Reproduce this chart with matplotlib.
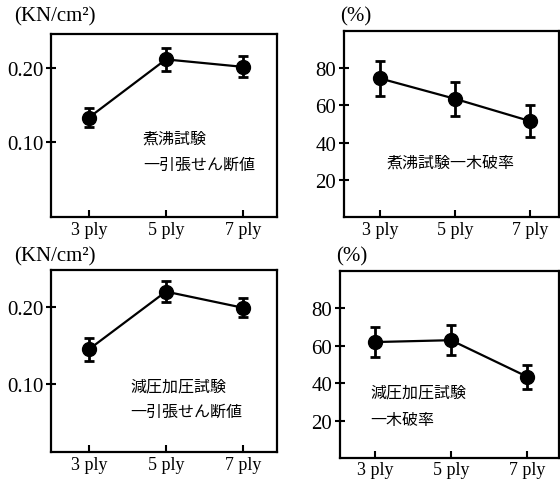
import matplotlib
matplotlib.use("Agg")
import matplotlib.pyplot as plt

categories = ["3 ply", "5 ply", "7 ply"]

# Boiling test - tensile shear strength (KN/cm2)
boil_shear = [0.133, 0.211, 0.201]
boil_shear_err = [0.013, 0.015, 0.014]
# Boiling test - wood failure (%)
boil_wood = [74.5, 63.5, 51.5]
boil_wood_err = [9.5, 9.0, 8.5]
# Vacuum-pressure test - tensile shear strength (KN/cm2)
vac_shear = [0.145, 0.220, 0.199]
vac_shear_err = [0.0145, 0.014, 0.0125]
# Vacuum-pressure test - wood failure (%)
vac_wood = [62.0, 63.0, 43.5]
vac_wood_err = [8.0, 8.0, 6.5]

shear_ticks = [0.10, 0.20]
shear_ticklabels = ["0.10", "0.20"]
pct_ticks = [20, 40, 60, 80]
pct_ticklabels = ["20", "40", "60", "80"]

SERIF = ["Liberation Serif", "DejaVu Serif"]
JP = ["Noto Sans CJK JP", "DejaVu Sans"]

fig = plt.figure(figsize=(5.6, 4.81), dpi=100)
W, H = 560, 481

def make_ax(left, top, right, bottom):
    return fig.add_axes([left / W, 1 - bottom / H, (right - left) / W, (bottom - top) / H])

panels = [
    dict(box=(51, 35, 277, 218), y=boil_shear, e=boil_shear_err, ylim=(0.0, 0.245),
         ticks=shear_ticks, tl=shear_ticklabels, xlim=(-0.49, 2.44),
         unit="(KN/cm²)", unit_xy=(14, 17),
         notes=[("煮沸試験", 143, 139), ("一引張せん断値", 143, 165)]),
    dict(box=(344, 32, 559, 218), y=boil_wood, e=boil_wood_err, ylim=(0, 100),
         ticks=pct_ticks, tl=pct_ticklabels, xlim=(-0.48, 2.38),
         unit="(%)", unit_xy=(340, 17),
         notes=[("煮沸試験一木破率", 387, 163)]),
    dict(box=(51, 271, 277, 453), y=vac_shear, e=vac_shear_err, ylim=(0.012, 0.248),
         ticks=shear_ticks, tl=shear_ticklabels, xlim=(-0.49, 2.44),
         unit="(KN/cm²)", unit_xy=(14, 257),
         notes=[("減圧加圧試験", 130, 387), ("一引張せん断値", 130, 412)]),
    dict(box=(340, 272, 559, 459), y=vac_wood, e=vac_wood_err, ylim=(0, 100),
         ticks=pct_ticks, tl=pct_ticklabels, xlim=(-0.46, 2.42),
         unit="(%)", unit_xy=(336, 257),
         notes=[("減圧加圧試験", 370, 393), ("一木破率", 370, 421)]),
]

for i, p in enumerate(panels):
    ax = make_ax(*p["box"])
    x = list(range(len(categories)))
    ax.errorbar(x, p["y"], yerr=p["e"], fmt="o-", color="black", lw=1.6,
                ms=10, capsize=3.5, capthick=2, elinewidth=2)
    ax.set_xlim(*p["xlim"])
    ax.set_ylim(*p["ylim"])
    ax.set_xticks(x)
    ax.set_xticklabels(categories, fontsize=13, family=SERIF)
    ax.set_yticks(p["ticks"])
    ax.set_yticklabels(p["tl"], fontsize=15, family=SERIF)
    ax.tick_params(axis="x", direction="in", length=5, width=1.5, pad=3 if i < 3 else 2)
    ax.tick_params(axis="y", direction="inout", length=7, width=1.5, pad=2)
    for s in ax.spines.values():
        s.set_linewidth(1.6)
    fig.text(p["unit_xy"][0] / W, 1 - p["unit_xy"][1] / H, p["unit"], fontsize=15,
             family=SERIF, va="center", ha="left")
    for txt, tx, ty in p["notes"]:
        fig.text(tx / W, 1 - ty / H, txt, fontsize=11.5, family=JP, va="center", ha="left")

fig.savefig("out.png", dpi=100)
